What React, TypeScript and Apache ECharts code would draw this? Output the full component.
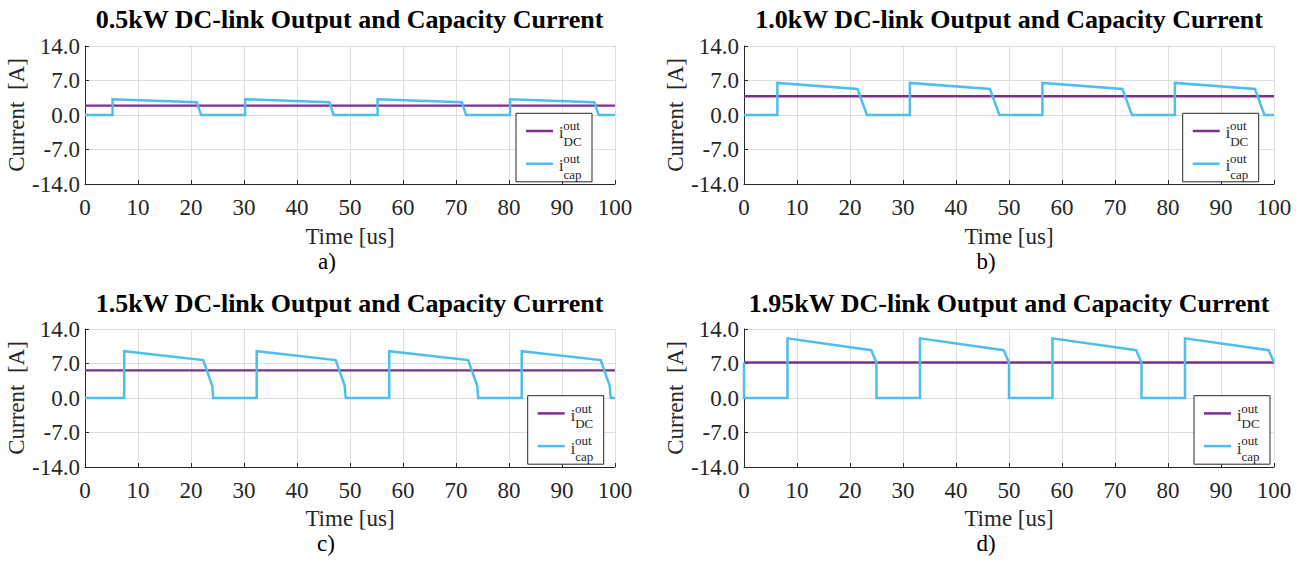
import React, { useEffect, useRef } from "react";
import * as echarts from "echarts";

// ---------- data ----------
const panelTitles = [
  "0.5kW DC-link Output and Capacity Current",
  "1.0kW DC-link Output and Capacity Current",
  "1.5kW DC-link Output and Capacity Current",
  "1.95kW DC-link Output and Capacity Current",
];
const panelTags = ["a)", "b)", "c)", "d)"];
const xAxisName = "Time [us]";
const yAxisName = "Current  [A]";
const seriesNames = ["i_DC_out", "i_cap_out"];

// DC-link output current (constant level per panel)
const dcLevels = [1.9, 3.8, 5.6, 7.2];

// Capacitor output current, panel a (0.5 kW)
const capTimeA = [0, 5.2, 5.2, 21.1, 21.9, 30.2, 30.2, 46.1, 46.9, 55.2, 55.2, 71.1, 71.9, 80.2, 80.2, 96.1, 96.9, 100];
const capValA = [0, 0, 3.2, 2.6, 0, 0, 3.2, 2.6, 0, 0, 3.2, 2.6, 0, 0, 3.2, 2.6, 0, 0];

// panel b (1.0 kW)
const capTimeB = [0, 6.3, 6.3, 21.4, 23.2, 31.3, 31.3, 46.4, 48.2, 56.3, 56.3, 71.4, 73.2, 81.3, 81.3, 96.4, 98.2, 100];
const capValB = [0, 0, 6.5, 5.3, 0, 0, 6.5, 5.3, 0, 0, 6.5, 5.3, 0, 0, 6.5, 5.3, 0, 0];

// panel c (1.5 kW)
const capTimeC = [0, 7.4, 7.4, 22.3, 24.0, 24.2, 32.4, 32.4, 47.3, 49.0, 49.2, 57.4, 57.4, 72.3, 74.0, 74.2, 82.4, 82.4, 97.3, 99.0, 99.2, 100];
const capValC = [0, 0, 9.5, 7.7, 2.5, 0, 0, 9.5, 7.7, 2.5, 0, 0, 9.5, 7.7, 2.5, 0, 0, 9.5, 7.7, 2.5, 0, 0];

// panel d (1.95 kW)
const capTimeD = [0, 0, 8.2, 8.2, 24.0, 25.0, 25.0, 33.2, 33.2, 49.0, 50.0, 50.0, 58.2, 58.2, 74.0, 75.0, 75.0, 83.2, 83.2, 99.0, 100];
const capValD = [7.2, 0, 0, 12.1, 9.7, 7.2, 0, 0, 12.1, 9.7, 7.2, 0, 0, 12.1, 9.7, 7.2, 0, 0, 12.1, 9.7, 7.2];

const capTimes = [capTimeA, capTimeB, capTimeC, capTimeD];
const capVals = [capValA, capValB, capValC, capValD];

const xMin = 0;
const xMax = 100;
const xStep = 10;
const yMin = -14;
const yMax = 14;
const yStep = 7;

// ---------- styling / layout ----------
const FONT = "'Liberation Serif', 'Times New Roman', serif";
const AXIS_COLOR = "#262626";
const GRID_COLOR = "#dedede";
const DC_COLOR = "#7E2F8E";
const CAP_COLOR = "#4DBEEE";

const grids = [
  { left: 85, top: 46, width: 530, height: 138 },
  { left: 744, top: 46, width: 530, height: 138 },
  { left: 85, top: 329, width: 530, height: 138 },
  { left: 744, top: 329, width: 530, height: 138 },
];
const xNameGaps = [43, 43, 42, 42];
const titlePos = [
  [349.5, 19.5],
  [1009, 19.5],
  [349.5, 303.5],
  [1009, 303.5],
];
const tagPos = [
  [327, 261],
  [986, 261],
  [326, 543],
  [986, 543],
];
const legendPos = [
  [516, 113.3],
  [1182.7, 113.3],
  [527.7, 395.7],
  [1194, 395.7],
];

function legendGraphics(bx: number, by: number) {
  const els: any[] = [];
  els.push({
    type: "rect",
    shape: { x: bx, y: by, width: 76, height: 68.5 },
    style: { fill: "#ffffff", stroke: AXIS_COLOR, lineWidth: 1 },
    z: 100,
  });
  const rows = [
    { color: DC_COLOR, sub: "DC", dy: 0 },
    { color: CAP_COLOR, sub: "cap", dy: 32.7 },
  ];
  rows.forEach((r) => {
    els.push({
      type: "line",
      shape: { x1: bx + 10, y1: by + 17.7 + r.dy, x2: bx + 37, y2: by + 17.7 + r.dy },
      style: { stroke: r.color, lineWidth: 2.5 },
      z: 101,
    });
    els.push({
      type: "text",
      x: bx + 43,
      y: by + 19.6 + r.dy,
      style: { text: "i", font: `16px ${FONT}`, fill: AXIS_COLOR, verticalAlign: "middle", align: "left", lineHeight: 12 },
      z: 101,
    });
    els.push({
      type: "text",
      x: bx + 47.3,
      y: by + 12.3 + r.dy,
      style: { text: "out", font: `13px ${FONT}`, fill: AXIS_COLOR, verticalAlign: "middle", align: "left", lineHeight: 10 },
      z: 101,
    });
    els.push({
      type: "text",
      x: bx + 47.5,
      y: by + 28 + r.dy,
      style: { text: r.sub, font: `13px ${FONT}`, fill: AXIS_COLOR, verticalAlign: "middle", align: "left", lineHeight: 10 },
      z: 101,
    });
  });
  return els;
}

export default function App() {
  const ref = useRef<HTMLDivElement>(null);

  useEffect(() => {
    document.body.style.margin = "0";
    if (!ref.current) return;
    const chart = echarts.init(ref.current, null, { renderer: "svg" });

    const title = panelTitles.map((t, i) => ({
      text: t,
      left: titlePos[i][0],
      top: titlePos[i][1],
      padding: 0,
      textAlign: "center",
      textVerticalAlign: "middle",
      textStyle: { fontFamily: FONT, fontWeight: "bold", fontSize: 26, color: "#000" },
    }));

    const xAxis = grids.map((_, i) => ({
      type: "value",
      gridIndex: i,
      min: xMin,
      max: xMax,
      interval: xStep,
      name: xAxisName,
      nameLocation: "middle",
      nameGap: xNameGaps[i],
      nameTextStyle: { fontFamily: FONT, fontSize: 23, color: AXIS_COLOR, lineHeight: 19 },
      axisLine: { show: true, onZero: false, lineStyle: { color: AXIS_COLOR, width: 1 } },
      axisTick: { show: true, inside: true, length: 4, lineStyle: { color: AXIS_COLOR } },
      axisLabel: {
        margin: 12,
        fontFamily: FONT,
        fontSize: 23,
        color: AXIS_COLOR,
        formatter: (v: number) => String(Math.round(v)),
      },
      splitLine: { show: true, lineStyle: { color: GRID_COLOR, width: 1 } },
    }));

    const yAxis = grids.map((_, i) => ({
      type: "value",
      gridIndex: i,
      min: yMin,
      max: yMax,
      interval: yStep,
      name: yAxisName,
      nameLocation: "middle",
      nameGap: 46,
      nameTextStyle: { fontFamily: FONT, fontSize: 23, color: AXIS_COLOR },
      axisLine: { show: true, onZero: false, lineStyle: { color: AXIS_COLOR, width: 1 } },
      axisTick: { show: true, inside: true, length: 4, lineStyle: { color: AXIS_COLOR } },
      axisLabel: {
        margin: 5,
        fontFamily: FONT,
        fontSize: 23,
        color: AXIS_COLOR,
        formatter: (v: number) => v.toFixed(1),
      },
      splitLine: { show: true, lineStyle: { color: GRID_COLOR, width: 1 } },
    }));

    const series: any[] = [];
    grids.forEach((_, i) => {
      series.push({
        name: seriesNames[0],
        type: "line",
        xAxisIndex: i,
        yAxisIndex: i,
        showSymbol: false,
        symbol: "none",
        data: [
          [xMin, dcLevels[i]],
          [xMax, dcLevels[i]],
        ],
        lineStyle: { color: DC_COLOR, width: 2.3 },
        z: 3,
      });
      series.push({
        name: seriesNames[1],
        type: "line",
        xAxisIndex: i,
        yAxisIndex: i,
        showSymbol: false,
        symbol: "none",
        data: capTimes[i].map((t, k) => [t, capVals[i][k]]),
        lineStyle: { color: CAP_COLOR, width: 2.5, join: "miter" },
        z: 4,
      });
    });

    const graphic: any[] = [];
    panelTags.forEach((tag, i) => {
      graphic.push({
        type: "text",
        x: tagPos[i][0],
        y: tagPos[i][1],
        style: { text: tag, font: `23px ${FONT}`, fill: "#000", align: "center", verticalAlign: "middle", lineHeight: 19 },
      });
    });
    legendPos.forEach(([bx, by]) => graphic.push(...legendGraphics(bx, by)));

    chart.setOption({
      animation: false,
      backgroundColor: "#ffffff",
      title,
      grid: grids.map((g) => ({ ...g, containLabel: false })),
      xAxis,
      yAxis,
      series,
      graphic,
    });

    return () => chart.dispose();
  }, []);

  return <div ref={ref} style={{ width: 1305, height: 562 }} />;
}
